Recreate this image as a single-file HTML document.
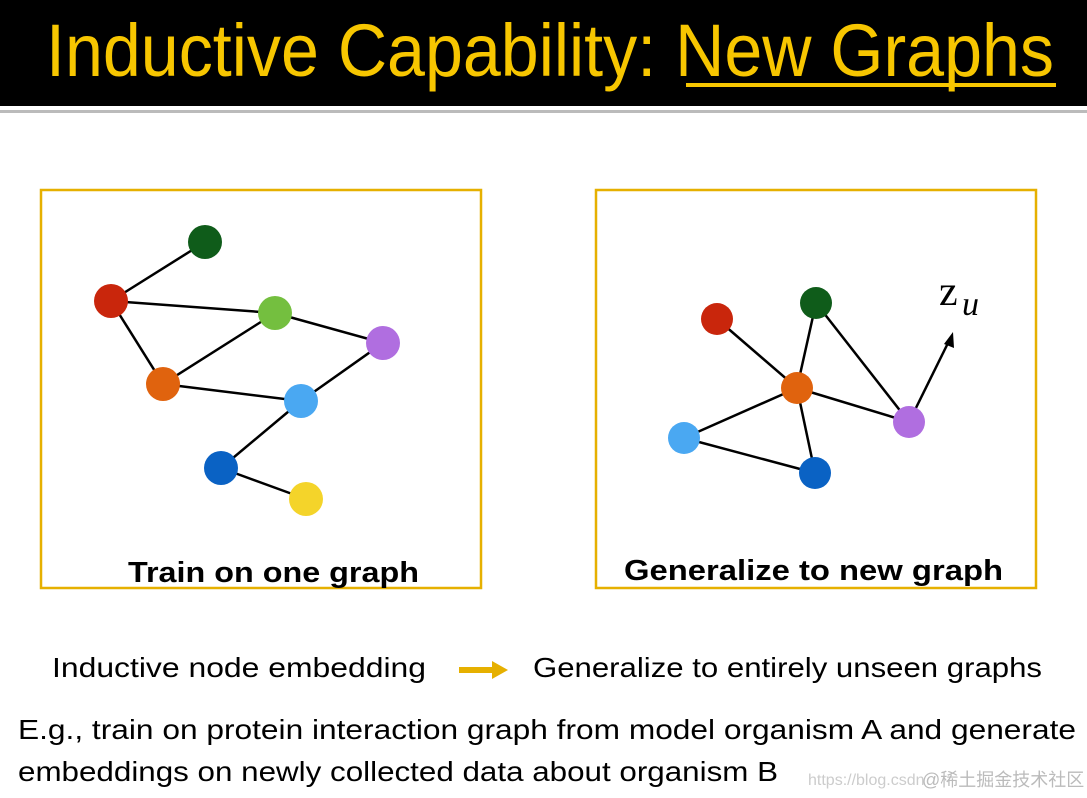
<!DOCTYPE html>
<html><head><style>body{margin:0;background:#fff}svg{display:block}</style></head><body>
<svg width="1087" height="798" xmlns="http://www.w3.org/2000/svg" font-family="Liberation Sans, sans-serif">
<rect x="0" y="0" width="1087" height="106" fill="#000"/>
<rect x="0" y="110" width="1087" height="3" fill="#bbb"/>
<text x="46" y="76" font-family="Liberation Sans Narrow, Liberation Sans, sans-serif" font-size="74" fill="#f7c600" textLength="1008" lengthAdjust="spacingAndGlyphs">Inductive Capability: New Graphs</text>
<rect x="686" y="83" width="370" height="4" fill="#f7c600"/>
<rect x="41" y="190" width="440" height="398" fill="none" stroke="#e6b000" stroke-width="2.5"/>
<rect x="596" y="190" width="440" height="398" fill="none" stroke="#e6b000" stroke-width="2.5"/>
<g stroke="#000" stroke-width="2.5">
<line x1="205" y1="242" x2="111" y2="301"/><line x1="111" y1="301" x2="275" y2="313"/>
<line x1="111" y1="301" x2="163" y2="384"/><line x1="163" y1="384" x2="275" y2="313"/>
<line x1="275" y1="313" x2="383" y2="343"/><line x1="163" y1="384" x2="301" y2="401"/>
<line x1="383" y1="343" x2="301" y2="401"/><line x1="301" y1="401" x2="221" y2="468"/>
<line x1="221" y1="468" x2="306" y2="499"/>
<line x1="717" y1="319" x2="797" y2="388"/><line x1="816" y1="303" x2="797" y2="388"/>
<line x1="816" y1="303" x2="909" y2="422"/><line x1="797" y1="388" x2="909" y2="422"/>
<line x1="797" y1="388" x2="684" y2="438"/><line x1="797" y1="388" x2="815" y2="473"/>
<line x1="684" y1="438" x2="815" y2="473"/>
<line x1="909" y1="422" x2="948" y2="343"/>
</g>
<polygon points="953,332 954,348 944,344" fill="#000"/>
<g>
<circle cx="205" cy="242" r="17" fill="#0f5c1a"/><circle cx="111" cy="301" r="17" fill="#c9260c"/>
<circle cx="275" cy="313" r="17" fill="#74bf3f"/><circle cx="383" cy="343" r="17" fill="#b06ee0"/>
<circle cx="163" cy="384" r="17" fill="#e0630e"/><circle cx="301" cy="401" r="17" fill="#4aa8f2"/>
<circle cx="221" cy="468" r="17" fill="#0a62c4"/><circle cx="306" cy="499" r="17" fill="#f4d42a"/>
<circle cx="717" cy="319" r="16" fill="#c9260c"/><circle cx="816" cy="303" r="16" fill="#0f5c1a"/>
<circle cx="797" cy="388" r="16" fill="#e0630e"/><circle cx="909" cy="422" r="16" fill="#b06ee0"/>
<circle cx="684" cy="438" r="16" fill="#4aa8f2"/><circle cx="815" cy="473" r="16" fill="#0a62c4"/>
</g>
<text x="939" y="305" font-family="Liberation Serif, serif" font-size="42">z</text>
<text x="962" y="315" font-family="Liberation Serif, serif" font-style="italic" font-size="34">u</text>
<text x="128" y="582" font-size="29" font-weight="bold" textLength="291" lengthAdjust="spacingAndGlyphs">Train on one graph</text>
<text x="624" y="580" font-size="29" font-weight="bold" textLength="379" lengthAdjust="spacingAndGlyphs">Generalize to new graph</text>
<text x="52" y="677" font-size="28" textLength="374" lengthAdjust="spacingAndGlyphs">Inductive node embedding</text>
<rect x="459" y="667" width="34" height="6" fill="#e6b000"/>
<polygon points="492,661 508,670 492,679" fill="#e6b000"/>
<text x="533" y="677" font-size="28" textLength="509" lengthAdjust="spacingAndGlyphs">Generalize to entirely unseen graphs</text>
<text x="18" y="739" font-size="28" textLength="1058" lengthAdjust="spacingAndGlyphs">E.g., train on protein interaction graph from model organism A and generate</text>
<text x="18" y="781" font-size="28" textLength="760" lengthAdjust="spacingAndGlyphs">embeddings on newly collected data about organism B</text>
<text x="808" y="785" font-size="16" fill="#ccc">https://blog.csdn</text>
<text x="922" y="786" font-size="18" fill="#bbb" font-family="Liberation Sans, Noto Sans CJK SC, sans-serif">@稀土掘金技术社区</text>
</svg>
</body></html>
